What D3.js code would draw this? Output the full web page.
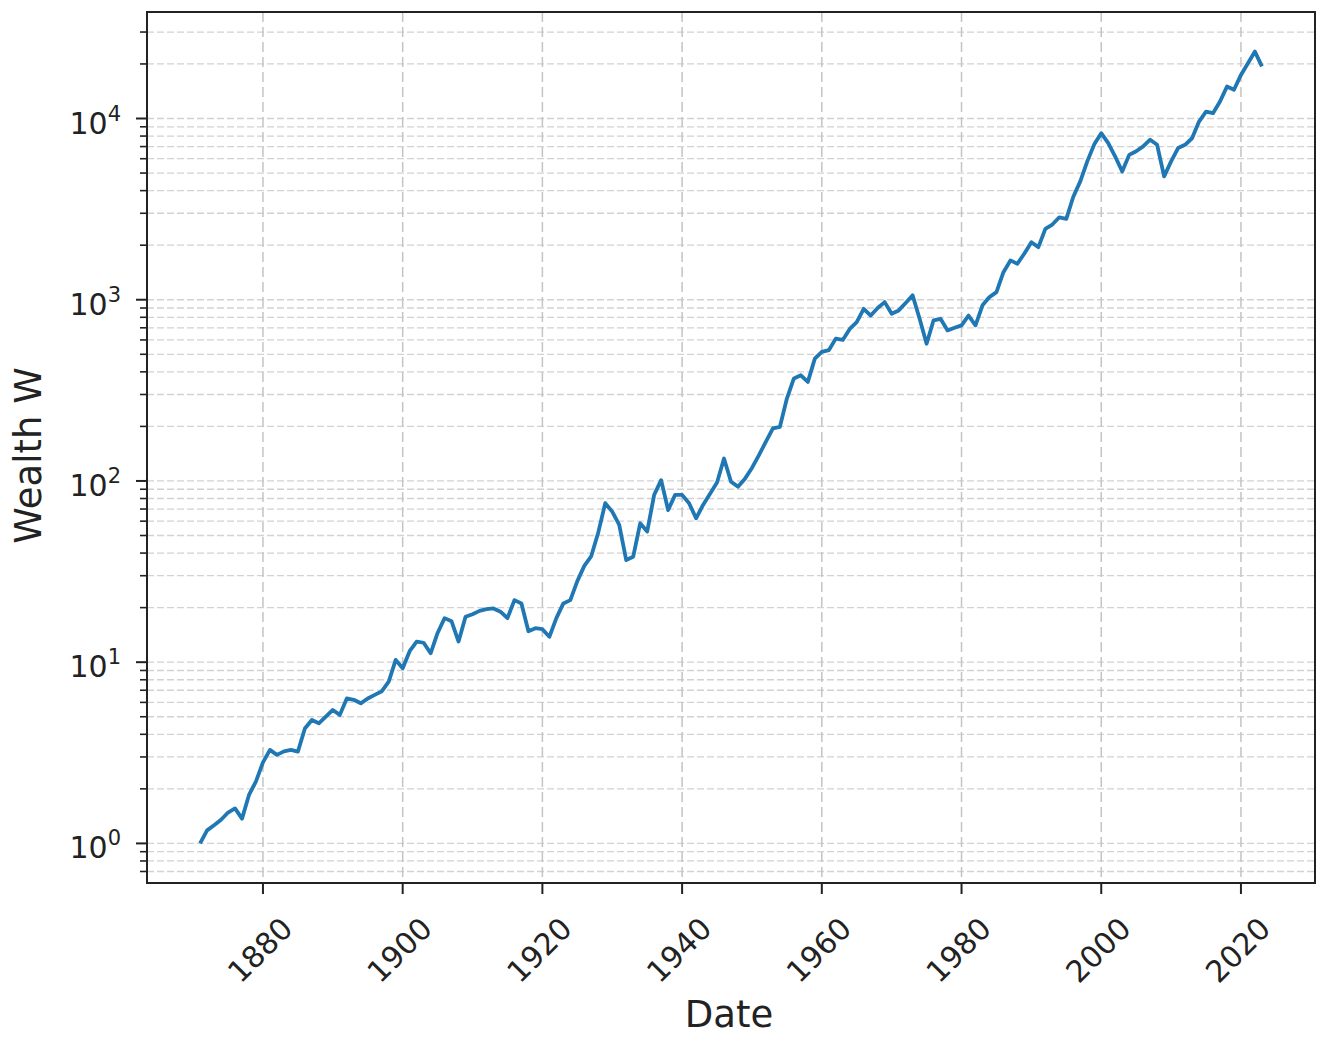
<!DOCTYPE html>
<html>
<head>
<meta charset="utf-8">
<script src="https://cdn.jsdelivr.net/npm/d3@7"></script>
<style>
  body { margin: 0; background: #fff; }
  svg { display: block; font-family: "DejaVu Sans", sans-serif; }
</style>
</head>
<body>
<svg id="chart" width="1333" height="1041"></svg>
<script>
// first year of the series, one value per year (January)
const startYear = 1871;
const wealth = [
  1.00, 1.18, 1.26, 1.35, 1.48, 1.56, 1.37, 1.85, 2.2, 2.8,          // 1871-1880
  3.28, 3.08, 3.22, 3.28, 3.21, 4.31, 4.80, 4.60, 5.0, 5.45,         // 1881-1890
  5.12, 6.31, 6.2, 5.93, 6.3, 6.6, 6.9, 7.8, 10.3, 9.25,             // 1891-1900
  11.5, 13.0, 12.8, 11.2, 14.5, 17.5, 16.8, 13.0, 17.8, 18.4,        // 1901-1910
  19.2, 19.6, 19.8, 19.0, 17.5, 22.0, 21.1, 14.8, 15.4, 15.2,        // 1911-1920
  13.8, 17.5, 21.1, 22.0, 28.0, 34.0, 38.5, 52.0, 75.4, 67.7,        // 1921-1930
  57.2, 36.6, 38.2, 58.4, 52.6, 83.8, 101, 69.1, 83.8, 83.8,         // 1931-1940
  75.4, 62.2, 73.7, 85, 98, 133, 99, 93, 103, 118,                   // 1941-1950
  139, 165, 195, 199, 285, 368, 383, 352, 473, 515,                  // 1951-1960
  527, 610, 600, 690, 752, 891, 818, 900, 970, 836,                  // 1961-1970
  873, 960, 1057, 785, 572, 770, 785, 677, 700, 722,                 // 1971-1980
  818, 722, 932, 1034, 1102, 1419, 1648, 1579, 1800, 2077,           // 1981-1990
  1950, 2460, 2600, 2850, 2795, 3700, 4500, 5800, 7200, 8300,        // 1991-2000
  7310, 6170, 5100, 6300, 6600, 7020, 7640, 7160, 4790, 5800,        // 2001-2010
  6870, 7160, 7780, 9620, 10900, 10700, 12400, 15000, 14400, 17400,  // 2011-2020
  20200, 23400, 19400                                                // 2021-2023
];
const xTickYears = [1880, 1900, 1920, 1940, 1960, 1980, 2000, 2020];
const yMajorExps = [0, 1, 2, 3, 4];

const data = wealth.map((w, i) => ({ year: startYear + i, w: w }));

const svg = d3.select('#chart');
const plotL = 147, plotR = 1315, plotT = 12, plotB = 883;

// 5% margins like matplotlib (log space for y)
const [x0, x1] = d3.extent(data, d => d.year);
const xPad = (x1 - x0) * 0.05;
const x = d3.scaleLinear().domain([x0 - xPad, x1 + xPad]).range([plotL, plotR]);

const [l0, l1] = d3.extent(data, d => Math.log10(d.w));
const lPad = (l1 - l0) * 0.05;
const y = d3.scaleLog().domain([10 ** (l0 - lPad), 10 ** (l1 + lPad)]).range([plotB, plotT]);

// minor ticks 2..9 x 10^n inside the domain
const yMinor = [];
for (let e = -1; e <= 4; e++) {
  for (let m = 2; m <= 9; m++) {
    const v = m * 10 ** e;
    if (v >= y.domain()[0] && v <= y.domain()[1]) yMinor.push(v);
  }
}
const yMajor = yMajorExps.map(e => 10 ** e);

// grid
const grid = svg.append('g');
grid.selectAll('.hminor')
  .data(yMinor.concat(yMajor))
  .enter().append('line')
  .attr('x1', plotL).attr('x2', plotR)
  .attr('y1', d => y(d)).attr('y2', d => y(d))
  .attr('stroke', '#d2d2d2').attr('stroke-width', 1.3)
  .attr('stroke-dasharray', '7,3');
grid.selectAll('.vmajor')
  .data(xTickYears)
  .enter().append('line')
  .attr('x1', d => x(d)).attr('x2', d => x(d))
  .attr('y1', plotT).attr('y2', plotB)
  .attr('stroke', '#c4c4c4').attr('stroke-width', 1.5)
  .attr('stroke-dasharray', '10,5');

// the wealth line
const line = d3.line().x(d => x(d.year)).y(d => y(d.w));
svg.append('path')
  .datum(data)
  .attr('d', line)
  .attr('fill', 'none')
  .attr('stroke', '#1f77b4')
  .attr('stroke-width', 3.8)
  .attr('stroke-linejoin', 'round');

// frame
svg.append('rect')
  .attr('x', plotL).attr('y', plotT)
  .attr('width', plotR - plotL).attr('height', plotB - plotT)
  .attr('fill', 'none').attr('stroke', '#222').attr('stroke-width', 2);

// x axis
const xAxis = svg.append('g');
xAxis.selectAll('line')
  .data(xTickYears)
  .enter().append('line')
  .attr('x1', d => x(d)).attr('x2', d => x(d))
  .attr('y1', plotB).attr('y2', plotB + 11)
  .attr('stroke', '#222').attr('stroke-width', 2);
xAxis.selectAll('text')
  .data(xTickYears)
  .enter().append('text')
  .attr('transform', d => `translate(${x(d) - 3},950) rotate(-45)`)
  .attr('text-anchor', 'middle')
  .attr('dominant-baseline', 'central')
  .attr('font-size', 30)
  .attr('fill', '#222')
  .text(d => d);

// y axis
const yAxis = svg.append('g');
yAxis.selectAll('.major')
  .data(yMajor)
  .enter().append('line')
  .attr('x1', plotL - 11).attr('x2', plotL)
  .attr('y1', d => y(d)).attr('y2', d => y(d))
  .attr('stroke', '#222').attr('stroke-width', 2);
yAxis.selectAll('.minor')
  .data(yMinor)
  .enter().append('line')
  .attr('x1', plotL - 7).attr('x2', plotL)
  .attr('y1', d => y(d)).attr('y2', d => y(d))
  .attr('stroke', '#222').attr('stroke-width', 1.6);
const yl = yAxis.selectAll('text')
  .data(yMajorExps)
  .enter().append('text')
  .attr('x', 121)
  .attr('y', d => y(10 ** d) + 15)
  .attr('text-anchor', 'end')
  .attr('font-size', 30)
  .attr('fill', '#222');
yl.append('tspan').text('10');
yl.append('tspan').attr('font-size', 21).attr('dy', -13).text(d => d);

// axis titles
svg.append('text')
  .attr('x', (plotL + plotR) / 2 - 2).attr('y', 1027)
  .attr('text-anchor', 'middle')
  .attr('font-size', 37).attr('fill', '#222')
  .text('Date');
svg.append('text')
  .attr('transform', `translate(41,${(plotT + plotB) / 2 + 8}) rotate(-90)`)
  .attr('text-anchor', 'middle')
  .attr('font-size', 37).attr('fill', '#222')
  .text('Wealth W');
</script>
</body>
</html>
